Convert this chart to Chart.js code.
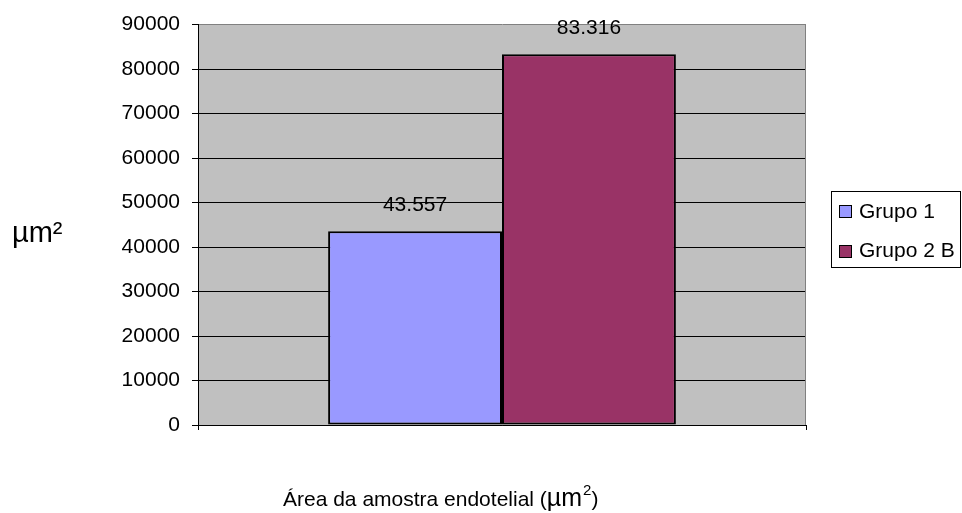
<!DOCTYPE html>
<html>
<head>
<meta charset="utf-8">
<script src="https://cdn.jsdelivr.net/npm/chart.js@4.4.1/dist/chart.umd.min.js"></script>
<style>
  html, body { margin: 0; padding: 0; background: #ffffff; }
  canvas { display: block; }
</style>
</head>
<body>
<canvas id="chart" width="962" height="513"></canvas>
<script>
// Categories, series and tick values
const categories = [''];
const seriesNames = ['Grupo 1', 'Grupo 2 B'];
const grupo1Values = [43557];
const grupo2BValues = [83316];
const seriesColors = ['#9999FF', '#993366'];
const yTickMin = 0;
const yTickMax = 90000;
const yTickStep = 10000;
const yTitle = 'µm²';
const xTitleParts = ['Área da amostra endotelial (', 'µm', '2', ')'];

const FONT = '"Liberation Sans", Arial, sans-serif';

// 43557 -> "43.557"
function formatThousands(v) {
  return String(v).replace(/\B(?=(\d{3})+(?!\d))/g, '.');
}

// Grey plot background and grey right frame
const plotFrame = {
  id: 'plotFrame',
  beforeDraw(chart) {
    const a = chart.chartArea, ctx = chart.ctx;
    ctx.save();
    ctx.fillStyle = '#C0C0C0';
    ctx.fillRect(a.left, a.top, a.right - a.left, a.bottom - a.top);
    ctx.restore();
  },
  beforeDatasetsDraw(chart) {
    const a = chart.chartArea, ctx = chart.ctx;
    ctx.save();
    ctx.strokeStyle = '#808080';
    ctx.lineWidth = 1;
    ctx.beginPath();
    ctx.moveTo(Math.round(a.right) - 0.5, a.top);
    ctx.lineTo(Math.round(a.right) - 0.5, a.bottom);
    ctx.stroke();
    ctx.restore();
  }
};

// Value labels above each bar
const valueLabels = {
  id: 'valueLabels',
  afterDatasetsDraw(chart) {
    const ctx = chart.ctx;
    ctx.save();
    ctx.font = '21px ' + FONT;
    ctx.fillStyle = '#000';
    ctx.textAlign = 'center';
    ctx.textBaseline = 'alphabetic';
    chart.data.datasets.forEach((ds, i) => {
      const meta = chart.getDatasetMeta(i);
      meta.data.forEach((bar, j) => {
        ctx.fillText(formatThousands(ds.data[j]), bar.x, bar.y - 20);
      });
    });
    ctx.restore();
  }
};

// Axis titles: vertical unit at the left, category title with mixed sizes below
const axisTitles = {
  id: 'axisTitles',
  afterDraw(chart) {
    const ctx = chart.ctx;
    ctx.save();
    ctx.fillStyle = '#000';
    ctx.textBaseline = 'alphabetic';
    ctx.textAlign = 'left';
    ctx.font = '29px ' + FONT;
    ctx.fillText(yTitle, 12, 242);

    let x = 283;
    const base = 506;
    ctx.font = '21px ' + FONT;
    ctx.fillText(xTitleParts[0], x, base);
    x += ctx.measureText(xTitleParts[0]).width;
    ctx.font = '25px ' + FONT;
    ctx.fillText(xTitleParts[1], x, base);
    x += ctx.measureText(xTitleParts[1]).width;
    ctx.font = '15px ' + FONT;
    ctx.fillText(xTitleParts[2], x + 1, 495);
    x += ctx.measureText(xTitleParts[2]).width + 1;
    ctx.font = '21px ' + FONT;
    ctx.fillText(xTitleParts[3], x, base);
    ctx.restore();
  }
};

// Framed legend to the right of the plot
const boxedLegend = {
  id: 'boxedLegend',
  afterDraw(chart) {
    const ctx = chart.ctx;
    const left = 831, top = 191, right = 961, bottom = 267;
    ctx.save();
    ctx.strokeStyle = '#000';
    ctx.lineWidth = 1;
    ctx.strokeRect(left + 0.5, top + 0.5, right - left - 1, bottom - top);
    ctx.font = '21px ' + FONT;
    ctx.textBaseline = 'alphabetic';
    ctx.textAlign = 'left';
    chart.data.datasets.forEach((ds, i) => {
      const sy = 205 + i * 40;
      ctx.fillStyle = ds.backgroundColor;
      ctx.fillRect(839, sy, 12, 12);
      ctx.strokeStyle = '#000';
      ctx.strokeRect(839.5, sy + 0.5, 12, 12);
      ctx.fillStyle = '#000';
      ctx.fillText(ds.label, 859, 218 + i * 39);
    });
    ctx.restore();
  }
};

new Chart(document.getElementById('chart'), {
  type: 'bar',
  data: {
    labels: categories,
    datasets: [
      {
        label: seriesNames[0],
        data: grupo1Values,
        backgroundColor: seriesColors[0],
        borderColor: '#000',
        borderWidth: 2,
        borderSkipped: false
      },
      {
        label: seriesNames[1],
        data: grupo2BValues,
        backgroundColor: seriesColors[1],
        borderColor: '#000',
        borderWidth: 2,
        borderSkipped: false
      }
    ]
  },
  options: {
    responsive: false,
    animation: false,
    devicePixelRatio: 1,
    layout: { padding: { top: 24, right: 156, bottom: 0, left: 0 } },
    datasets: {
      bar: { categoryPercentage: 0.572, barPercentage: 1.0 }
    },
    plugins: {
      legend: { display: false },
      tooltip: { enabled: false },
      title: { display: false }
    },
    scales: {
      x: {
        offset: true,
        afterFit(scale) { scale.height = 88; },
        grid: {
          offset: true,
          drawOnChartArea: false,
          drawTicks: true,
          tickLength: 5,
          color: '#000'
        },
        border: { display: true, color: '#000', width: 1 },
        ticks: { display: false }
      },
      y: {
        min: yTickMin,
        max: yTickMax,
        afterFit(scale) { scale.width = 198; },
        ticks: {
          stepSize: yTickStep,
          padding: 12,
          color: '#000',
          font: { family: FONT, size: 21 },
          callback: (value) => String(value)
        },
        grid: {
          color: (c) => (c.tick && c.tick.value === yTickMax ? '#808080' : '#000'),
          tickColor: '#000',
          tickLength: 6,
          lineWidth: 1
        },
        border: { display: true, color: '#000', width: 1 }
      }
    }
  },
  plugins: [plotFrame, valueLabels, axisTitles, boxedLegend]
});
</script>
</body>
</html>
